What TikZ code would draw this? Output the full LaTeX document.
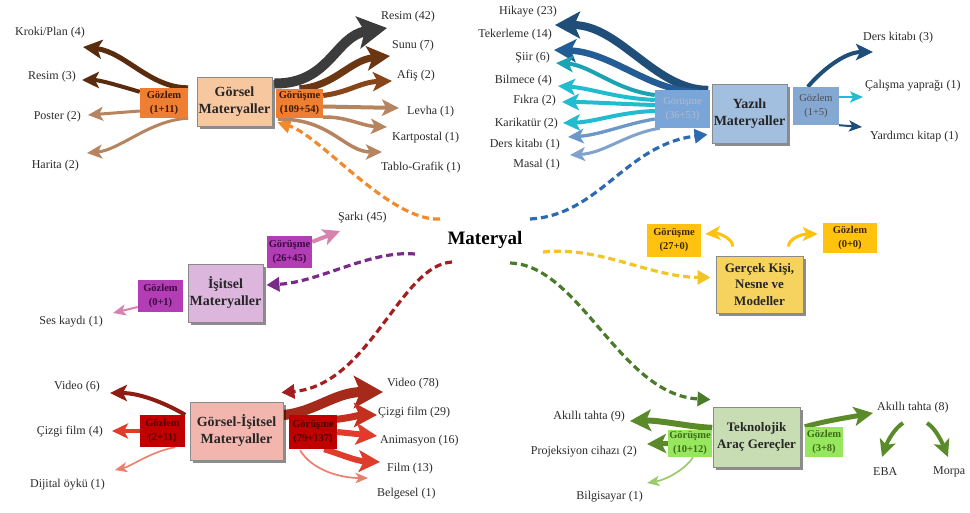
\documentclass[tikz,border=0pt]{standalone}
\usepackage{fontspec}
\setmainfont{Liberation Serif}
\usetikzlibrary{arrows.meta,shadows}
\pgfdeclarelayer{back}
\pgfsetlayers{back,main}

\definecolor{txt}{HTML}{2B2B2B}
\definecolor{boxline}{HTML}{8A8A8A}
% Görsel
\definecolor{gorF}{HTML}{F7C7A0}
\definecolor{gorS}{HTML}{EF7D32}
\definecolor{gorT}{HTML}{3A1A05}
\definecolor{brD}{HTML}{5A2C0E}
\definecolor{brM}{HTML}{6B3612}
\definecolor{brA}{HTML}{874519}
\definecolor{brL}{HTML}{B6845F}
\definecolor{grayD}{HTML}{3C3C3C}
\definecolor{orD}{HTML}{F08A2C}
% Yazılı
\definecolor{yazF}{HTML}{A3BFE0}
\definecolor{yazS}{HTML}{7AA5D8}
\definecolor{yazS2}{HTML}{85A8D3}
\definecolor{yazT}{HTML}{B4BCC8}
\definecolor{blN}{HTML}{1F4E79}
\definecolor{blN2}{HTML}{245C95}
\definecolor{blT}{HTML}{1BA3B3}
\definecolor{blC}{HTML}{22BCD0}
\definecolor{blL}{HTML}{6B98C8}
\definecolor{blL2}{HTML}{80A2CC}
\definecolor{blD}{HTML}{2E6AB0}
% İşitsel
\definecolor{isF}{HTML}{DDB6DD}
\definecolor{isS}{HTML}{B23DB5}
\definecolor{isT}{HTML}{3A0A3E}
\definecolor{pk}{HTML}{D882AE}
\definecolor{puD}{HTML}{7A2A88}
% Görsel-İşitsel
\definecolor{giF}{HTML}{F2B6AE}
\definecolor{giS}{HTML}{C00000}
\definecolor{giT}{HTML}{4E0000}
\definecolor{rdD}{HTML}{8E1C12}
\definecolor{rdM}{HTML}{A52A1A}
\definecolor{rdB}{HTML}{C4301F}
\definecolor{rdC}{HTML}{DF3C2B}
\definecolor{rdL}{HTML}{E9806E}
\definecolor{rdDash}{HTML}{A31F1F}
% Gerçek
\definecolor{geF}{HTML}{F6D35E}
\definecolor{geS}{HTML}{FFC20E}
\definecolor{geT}{HTML}{3A2A00}
\definecolor{yeD}{HTML}{F2C526}
% Teknolojik
\definecolor{teF}{HTML}{C9DDB5}
\definecolor{teS}{HTML}{96E65E}
\definecolor{teT}{HTML}{3D6B1A}
\definecolor{grA}{HTML}{5A8A2A}
\definecolor{grL}{HTML}{9BCB6B}
\definecolor{grD}{HTML}{4A7A2A}

\tikzset{
  mainbox/.style={draw=boxline, line width=0.9pt, align=center, inner sep=0pt,
    font=\bfseries\fontsize{14}{17}\selectfont, text=black!85,
    drop shadow={shadow xshift=2.5pt, shadow yshift=-2.5pt, fill=black, opacity=0.45}},
  tagbox/.style={align=center, inner sep=0pt, font=\bfseries\fontsize{10.5}{14}\selectfont},
  lbl/.style={inner sep=0pt, font=\fontsize{12}{14}\selectfont, text=txt},
  flow/.style={line width=#1, -{Stealth[length=9pt 2, width=6pt 2.6, inset=2.5pt 0.4]}},
  link/.style={draw=#1, line width=3.2pt, dash pattern=on 7pt off 4pt,
    -{Triangle[length=13pt, width=14pt]}},
}

\begin{document}
\begin{tikzpicture}[x=1pt,y=-1pt]
\useasboundingbox (0,0) rectangle (970,512);

% centre
\node[font=\bfseries\fontsize{19}{22}\selectfont, inner sep=0pt] (mat) at (485,240) {Materyal};

% ---------- category boxes and their tags ----------
\node[mainbox, fill=gorF, minimum width=75pt, minimum height=49pt] (gor) at (234.5,101.5) {Görsel\\Materyaller};
\node[tagbox, fill=gorS, text=gorT, minimum width=48pt, minimum height=30pt] (gorGz) at (164,103) {Gözlem\\(1+11)};
\node[tagbox, fill=gorS, text=gorT, minimum width=47pt, minimum height=29pt] (gorGr) at (299.5,103.5) {Görüşme\\(109+54)};

\node[mainbox, fill=yazF, minimum width=75pt, minimum height=59pt] (yaz) at (749.5,113.5) {Yazılı\\Materyaller};
\node[tagbox, font=\fontsize{10.5}{14}\selectfont, fill=yazS, text=yazT, minimum width=55pt, minimum height=38pt] (yazGr) at (682.5,109) {Görüşme\\(36+53)};
\node[tagbox, font=\fontsize{10.5}{14}\selectfont, fill=yazS2, text=black!70, minimum width=46pt, minimum height=38pt] (yazGz) at (816,106) {Gözlem\\(1+5)};

\node[mainbox, fill=isF, minimum width=75pt, minimum height=58pt] (isit) at (225.5,293) {İşitsel\\Materyaller};
\node[tagbox, fill=isS, text=isT, minimum width=45pt, minimum height=32pt] (isitGr) at (289.5,252) {Görüşme\\(26+45)};
\node[tagbox, fill=isS, text=isT, minimum width=45pt, minimum height=32pt] (isitGz) at (160.5,296) {Gözlem\\(0+1)};

\node[mainbox, fill=giF, minimum width=93pt, minimum height=58pt] (gi) at (236.5,431) {Görsel-İşitsel\\Materyaller};
\node[tagbox, fill=giS, text=giT, minimum width=45pt, minimum height=32pt] (giGz) at (162.5,431) {Gözlem\\(2+11)};
\node[tagbox, fill=giS, text=giT, minimum width=48pt, minimum height=34pt] (giGr) at (313,432) {Görüşme\\(79+137)};

\node[mainbox, font=\bfseries\fontsize{13}{16.5}\selectfont, fill=geF, minimum width=87pt, minimum height=57pt] (ger) at (759.5,284.5) {Gerçek Kişi,\\Nesne ve\\Modeller};
\node[tagbox, fill=geS, text=geT, minimum width=54pt, minimum height=33pt] (gerGr) at (674,240.5) {Görüşme\\(27+0)};
\node[tagbox, fill=geS, text=geT, minimum width=54pt, minimum height=30pt] (gerGz) at (850,238) {Gözlem\\(0+0)};

\node[mainbox, font=\bfseries\fontsize{13}{17}\selectfont, fill=teF, minimum width=87pt, minimum height=60pt] (tek) at (756.5,437) {Teknolojik\\Araç Gereçler};
\node[tagbox, fill=teS, text=teT, minimum width=44pt, minimum height=27pt] (tekGr) at (690,443.5) {Görüşme\\(10+12)};
\node[tagbox, fill=teS, text=teT, minimum width=38pt, minimum height=30pt] (tekGz) at (824,442) {Gözlem\\(3+8)};

% ---------- item labels ----------
% Görsel
\node[lbl, anchor=east] (kroki) at (85,33) {Kroki/Plan (4)};
\node[lbl, anchor=east] (resimA) at (76,77) {Resim (3)};
\node[lbl, anchor=east] (poster) at (81,117) {Poster (2)};
\node[lbl, anchor=east] (harita) at (79,166) {Harita (2)};
\node[lbl, anchor=west] (resimB) at (381,17) {Resim (42)};
\node[lbl, anchor=west] (sunu) at (392,46) {Sunu (7)};
\node[lbl, anchor=west] (afis) at (397,76) {Afiş (2)};
\node[lbl, anchor=west] (levha) at (407,112) {Levha (1)};
\node[lbl, anchor=west] (kart) at (392,138) {Kartpostal (1)};
\node[lbl, anchor=west] (tablo) at (381,168) {Tablo-Grafik (1)};
% Yazılı
\node[lbl, anchor=east] (hikaye) at (557,12) {Hikaye (23)};
\node[lbl, anchor=east] (teker) at (552,35) {Tekerleme (14)};
\node[lbl, anchor=east] (siir) at (550,58) {Şiir (6)};
\node[lbl, anchor=east] (bilmece) at (552,81) {Bilmece (4)};
\node[lbl, anchor=east] (fikra) at (556,101) {Fıkra (2)};
\node[lbl, anchor=east] (karikatur) at (558,124) {Karikatür (2)};
\node[lbl, anchor=east] (dersA) at (560,145) {Ders kitabı (1)};
\node[lbl, anchor=east] (masal) at (560,165) {Masal (1)};
\node[lbl, anchor=west] (dersB) at (863,38) {Ders kitabı (3)};
\node[lbl, anchor=west] (calisma) at (865,86) {Çalışma yaprağı (1)};
\node[lbl, anchor=west] (yardimci) at (870,137) {Yardımcı kitap (1)};
% İşitsel
\node[lbl, anchor=west] (sarki) at (338,218) {Şarkı (45)};
\node[lbl, anchor=east] (ses) at (103,322) {Ses kaydı (1)};
% Görsel-İşitsel
\node[lbl, anchor=east] (videoA) at (100,387) {Video (6)};
\node[lbl, anchor=east] (cizgiA) at (103,432) {Çizgi film (4)};
\node[lbl, anchor=east] (dijital) at (105,485) {Dijital öykü (1)};
\node[lbl, anchor=west] (videoB) at (387,384) {Video (78)};
\node[lbl, anchor=west] (cizgiB) at (378,413) {Çizgi film (29)};
\node[lbl, anchor=west] (anim) at (380,441) {Animasyon (16)};
\node[lbl, anchor=west] (film) at (387,469) {Film (13)};
\node[lbl, anchor=west] (belgesel) at (377,494) {Belgesel (1)};
% Teknolojik
\node[lbl, anchor=east] (akilliA) at (625,417) {Akıllı tahta (9)};
\node[lbl, anchor=east] (proj) at (637,452) {Projeksiyon cihazı (2)};
\node[lbl, anchor=east] (bilg) at (643,497) {Bilgisayar (1)};
\node[lbl, anchor=west] (akilliB) at (877,408) {Akıllı tahta (8)};
\node[lbl, anchor=west] (eba) at (873,472) {EBA};
\node[lbl, anchor=west] (morpa) at (933,472) {Morpa};

\begin{pgfonlayer}{back}
\fill[white] (0,0) rectangle (970,512);
% ---------- dashed links from the centre ----------
\draw[link=orD] ([shift={(-45,-21)}]mat.center) .. controls (390,222) and (320,135) .. ([shift={(5,-4)}]gor.south east);
\draw[link=blD] ([shift={(45,-21)}]mat.center) .. controls (600,215) and (625,145) .. ([shift={(-4,21)}]yaz.west);
\draw[link=puD] ([shift={(-70,14)}]mat.center) .. controls (370,250) and (320,282) .. ([shift={(3,-8)}]isit.east);
\draw[link=rdDash] ([shift={(-33,22)}]mat.center) .. controls (400,265) and (370,385) .. ([shift={(-2,-9)}]gi.north east);
\draw[link=yeD] ([shift={(58,12)}]mat.center) .. controls (600,246) and (650,277) .. ([shift={(-5,-7)}]ger.west);
\draw[link=grD] ([shift={(25,23)}]mat.center) .. controls (580,265) and (620,395) .. ([shift={(-2,-7)}]tek.north west);

% ---------- Görsel ----------
\draw[flow=5pt, brD] (gorGz.north east) .. controls (150,88) and (125,52) .. ([shift={(-2,14)}]kroki.east);
\draw[flow=4pt, brD] ([shift={(0,4)}]gorGz.north west) .. controls (120,86) and (100,80) .. ([shift={(6,3)}]resimA.east);
\draw[flow=3pt, brL] ([shift={(0,8)}]gorGz.west) -- ([shift={(7,-2)}]poster.east);
\draw[flow=3pt, brL] (gorGz.south east) .. controls (150,120) and (120,150) .. ([shift={(8,-13)}]harita.east);
\draw[flow=10pt, grayD] ([shift={(2,-18)}]gor.east) .. controls (330,84) and (335,36) .. ([shift={(6,11)}]resimB.west);
\draw[flow=7pt, brM] (gorGr.north) .. controls (335,86) and (350,60) .. ([shift={(-2,10)}]sunu.west);
\draw[flow=5pt, brA] ([shift={(0,-8)}]gorGr.east) .. controls (350,92) and (360,82) .. ([shift={(-5,5)}]afis.west);
\draw[flow=4pt, brL] ([shift={(0,3)}]gorGr.east) -- ([shift={(-8,-4)}]levha.west);
\draw[flow=3.5pt, brL] ([shift={(0,-1)}]gorGr.south east) .. controls (345,116) and (362,126) .. ([shift={(-5,-11)}]kart.west);
\draw[flow=3.5pt, brL] ([shift={(2,1)}]gorGr.south west) .. controls (330,118) and (345,152) .. ([shift={(1,-16)}]tablo.west);

% ---------- Yazılı ----------
\draw[flow=8pt, blN] ([shift={(-2,0)}]yazGr.north east) .. controls (655,90) and (620,25) .. ([shift={(-2,13)}]hikaye.east);
\draw[flow=6.5pt, blN2] ([shift={(-12,2)}]yazGr.north east) .. controls (650,92) and (612,52) .. ([shift={(2,15)}]teker.east);
\draw[flow=4pt, blT] ([shift={(0,-14)}]yazGr.west) .. controls (615,90) and (590,65) .. ([shift={(6,5)}]siir.east);
\draw[flow=4pt, blC] ([shift={(0,-9)}]yazGr.west) .. controls (615,98) and (590,88) .. ([shift={(6,5)}]bilmece.east);
\draw[flow=4pt, blC] ([shift={(0,-4)}]yazGr.west) .. controls (620,104) and (590,102) .. ([shift={(6,1)}]fikra.east);
\draw[flow=4pt, blC] ([shift={(0,2)}]yazGr.west) .. controls (620,112) and (595,122) .. ([shift={(5,-1)}]karikatur.east);
\draw[flow=3.3pt, blL] ([shift={(0,10)}]yazGr.west) .. controls (625,124) and (600,135) .. ([shift={(8,-8)}]dersA.east);
\draw[flow=3pt, blL2] ([shift={(5,0)}]yazGr.south west) .. controls (625,134) and (605,153) .. ([shift={(10,-10)}]masal.east);
\draw[flow=4pt, blN] ([shift={(15,0)}]yazGz.north west) .. controls (822,70) and (845,52) .. ([shift={(10,14)}]dersB.west);
\draw[flow=2pt, blC] ([shift={(0,-9)}]yazGz.east) -- ([shift={(-2,11)}]calisma.west);
\draw[flow=2pt, blN] (yazGz.south east) -- ([shift={(-8,-10)}]yardimci.west);

% ---------- İşitsel ----------
\draw[flow=4pt, pk] ([shift={(0,6)}]isitGr.north east) -- ([shift={(2,13)}]sarki.west);
\draw[flow=2pt, pk] ([shift={(0,11)}]isitGz.west) -- ([shift={(10,-9)}]ses.east);

% ---------- Görsel-İşitsel ----------
\draw[flow=4pt, rdD] (giGz.north east) .. controls (165,403) and (140,393) .. ([shift={(10,6)}]videoA.east);
\draw[flow=3.5pt, rdC] (giGz.west) -- ([shift={(9,-1)}]cizgiA.east);
\draw[flow=1.6pt, rdL] ([shift={(-10,0)}]giGz.south east) .. controls (150,452) and (132,466) .. ([shift={(10,-15)}]dijital.east);
\draw[flow=10pt, rdM] ([shift={(0,-16)}]gi.east) .. controls (315,412) and (335,392) .. ([shift={(-4,8)}]videoB.west);
\draw[flow=7pt, rdB] ([shift={(-5,5)}]giGr.north east) .. controls (350,418) and (360,415) .. ([shift={(-1,2)}]cizgiB.west);
\draw[flow=6pt, rdC] (giGr.east) -- ([shift={(-3,-5)}]anim.west);
\draw[flow=6pt, rdC] ([shift={(-13,0)}]giGr.south east) .. controls (340,454) and (356,461) .. ([shift={(-7,-7)}]film.west);
\draw[flow=1.7pt, rdL] ([shift={(-13,1)}]giGr.south) .. controls (312,470) and (340,478) .. ([shift={(-9,-16)}]belgesel.west);

% ---------- Gerçek ----------
\draw[flow=3pt, geS] ([shift={(-27,-9)}]ger.north) .. controls (734,240) and (720,233) .. ([shift={(4,-6.5)}]gerGr.east);
\draw[flow=3pt, geS] ([shift={(29,-9)}]ger.north) .. controls (788,240) and (800,234) .. ([shift={(-5,-4)}]gerGz.west);

% ---------- Teknolojik ----------
\draw[flow=6pt, grA] ([shift={(0,-2)}]tekGr.north east) .. controls (690,427) and (660,420) .. ([shift={(5,4)}]akilliA.east);
\draw[flow=5pt, grA] (tekGr.west) -- ([shift={(10,-8)}]proj.east);
\draw[flow=1.7pt, grL] ([shift={(3,0)}]tekGr.south) .. controls (685,470) and (665,480) .. ([shift={(4,-14)}]bilg.east);
\draw[flow=5pt, grA] (tekGz.north west) .. controls (825,421) and (845,418) .. ([shift={(-4,5)}]akilliB.west);
\draw[flow=4pt, grA] ([shift={(26,15)}]akilliB.west) .. controls (895,428) and (888,440) .. ([shift={(9,-15)}]eba.west);
\draw[flow=4pt, grA] ([shift={(50,15)}]akilliB.west) .. controls (935,428) and (941,440) .. ([shift={(15,-15)}]morpa.west);
\end{pgfonlayer}
\end{tikzpicture}
\end{document}
